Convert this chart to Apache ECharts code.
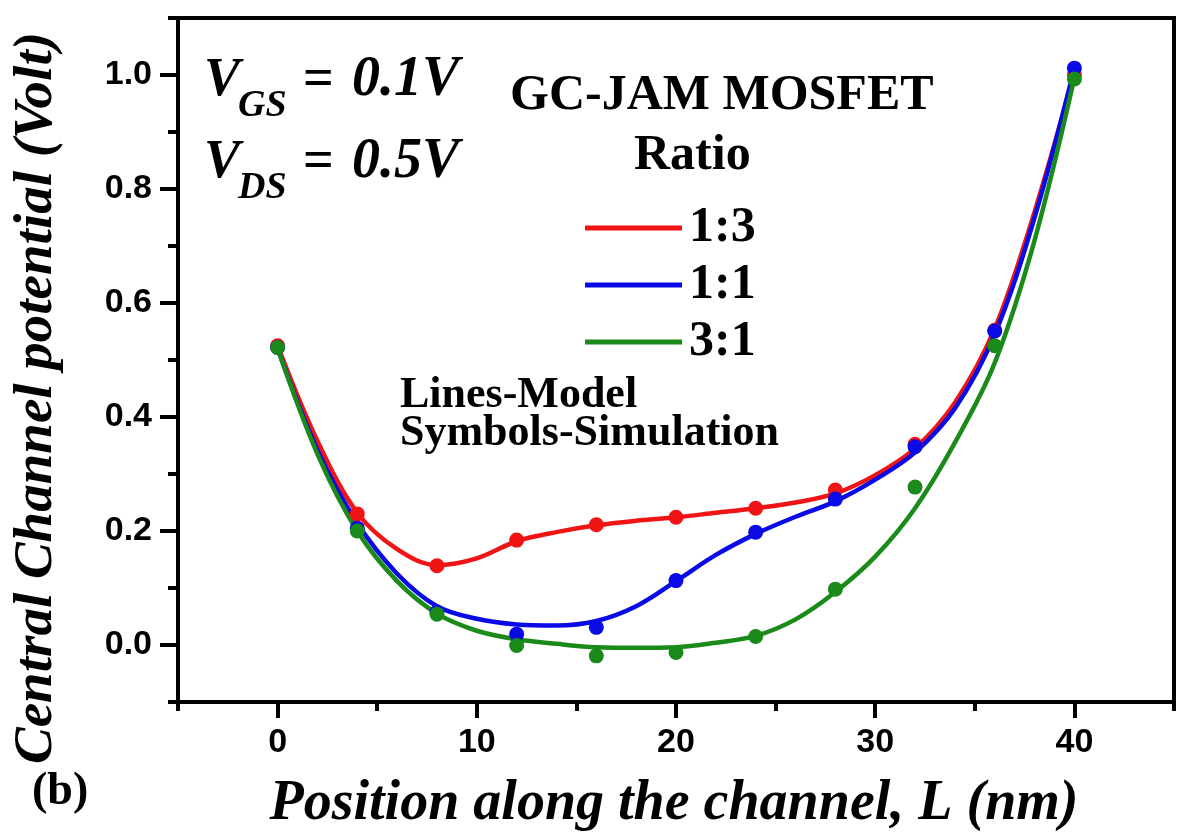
<!DOCTYPE html>
<html>
<head>
<meta charset="utf-8">
<script src="https://cdn.jsdelivr.net/npm/echarts@6/dist/echarts.min.js"></script>
<style>
html,body{margin:0;padding:0;background:#fff;}
#chart{width:1178px;height:833px;}
</style>
</head>
<body>
<div id="chart"></div>
<script>
// Model curves (lines)
const xModel = [0,2,4,6,8,10,12,14,16,18,20,22,24,26,28,30,32,34,36,38,40];
const model13 = [0.525,0.358,0.232,0.168,0.140,0.152,0.182,0.198,0.210,0.218,0.224,0.232,0.240,0.250,0.266,0.298,0.345,0.425,0.555,0.760,1.005];
const model11 = [0.520,0.342,0.214,0.125,0.068,0.046,0.036,0.034,0.042,0.068,0.112,0.158,0.195,0.225,0.252,0.290,0.338,0.415,0.545,0.750,1.012];
const model31 = [0.520,0.335,0.200,0.112,0.055,0.025,0.010,0.002,-0.004,-0.005,-0.004,0.004,0.016,0.045,0.093,0.155,0.240,0.355,0.495,0.710,0.995];
// Simulation (symbols)
const xSim = [0,4,8,12,16,20,24,28,32,36,40];
const sim13 = [0.525,0.230,0.139,0.184,0.211,0.224,0.240,0.272,0.352,0.552,1.000];
const sim11 = [0.522,0.205,0.058,0.019,0.031,0.113,0.198,0.256,0.348,0.551,1.012];
const sim31 = [0.522,0.200,0.054,-0.001,-0.019,-0.013,0.015,0.098,0.277,0.525,0.993];
const seriesNames = ['1:3','1:1','3:1'];
const colors = ['#f01414','#0a0ae6','#1a8a1a'];
const xTickLabels = [0,10,20,30,40];
const yTickLabels = [0.0,0.2,0.4,0.6,0.8,1.0];

const pair = (xs, ys) => xs.map((x,i)=>[x, ys[i]]);
const models = [model13, model11, model31];
const sims = [sim13, sim11, sim31];

const serif = '"Liberation Serif", "Times New Roman", serif';
const sans = '"Liberation Sans", Arial, sans-serif';

const chart = echarts.init(document.getElementById('chart'), null, {renderer:'canvas'});

const lineSeries = seriesNames.map((n,i)=>({
  name: n, type:'line', data: pair(xModel, models[i]), smooth: 0.35,
  symbol:'none', lineStyle:{color:colors[i], width:4.5}, itemStyle:{color:colors[i]},
  xAxisIndex:0, yAxisIndex:0, z:2, silent:true
}));
const simSeries = seriesNames.map((n,i)=>({
  name: 'sim ' + n, type:'scatter', data: pair(xSim, sims[i]),
  symbol:'circle', symbolSize:15, itemStyle:{color:colors[i], opacity:1},
  xAxisIndex:0, yAxisIndex:0, z:3, silent:true
}));

function txt(text, x, y, font){
  return {type:'text', x:x, y:y, silent:true, z:100,
    style:{text:text, font:font, fill:'#000', align:'left', verticalAlign:'middle'}};
}

const option = {
  animation:false,
  backgroundColor:'#fff',
  grid:{left:178, right:4, top:18, bottom:131, show:true, borderColor:'#000', borderWidth:4, backgroundColor:'transparent'},
  xAxis:[
    {type:'value', min:-5, max:45, interval:10, position:'bottom',
     axisLine:{show:true, onZero:false, lineStyle:{color:'#000', width:4}},
     axisTick:{show:true, inside:false, length:9, lineStyle:{color:'#000', width:4}},
     minorTick:{show:true, splitNumber:2, length:16, lineStyle:{color:'#000', width:4}},
     axisLabel:{show:false}, splitLine:{show:false}, minorSplitLine:{show:false}},
    {type:'value', min:-5, max:45, interval:5, position:'bottom', offset:0,
     axisLine:{show:false}, axisTick:{show:false}, splitLine:{show:false},
     axisLabel:{show:true, margin:24, color:'#000', fontFamily:sans, fontWeight:'bold', fontSize:34,
       formatter:(v)=> xTickLabels.indexOf(Math.round(v))>=0 && Math.abs(v-Math.round(v))<1e-6 ? String(Math.round(v)) : ''}}
  ],
  yAxis:[
    {type:'value', min:-0.1, max:1.1, interval:0.2, position:'left',
     axisLine:{show:true, onZero:false, lineStyle:{color:'#000', width:4}},
     axisTick:{show:true, inside:false, length:10, lineStyle:{color:'#000', width:4}},
     minorTick:{show:true, splitNumber:2, length:18, lineStyle:{color:'#000', width:4}},
     axisLabel:{show:false}, splitLine:{show:false}, minorSplitLine:{show:false}},
    {type:'value', min:-0.1, max:1.1, interval:0.1, position:'left', offset:0,
     axisLine:{show:false}, axisTick:{show:false}, splitLine:{show:false},
     axisLabel:{show:true, margin:26, color:'#000', fontFamily:sans, fontWeight:'bold', fontSize:34,
       formatter:(v)=>{ const k=Math.round(v*10); const val=k/10; return (k%2===0 && yTickLabels.some(t=>Math.abs(t-val)<1e-6)) ? val.toFixed(1) : ''; }}}
  ],
  legend:{
    data:seriesNames, orient:'vertical', left:585, top:203, itemGap:7, padding:0,
    icon:'rect', itemWidth:97, itemHeight:5, itemStyle:{borderWidth:0},
    selectedMode:false,
    textStyle:{fontFamily:serif, fontWeight:'bold', fontSize:50, color:'#000', lineHeight:50, padding:[0,0,0,2]}
  },
  series: lineSeries.concat(simSeries),
  graphic:[
    txt('V', 204, 81, 'bold italic 54px ' + serif),
    txt('GS', 238, 106, 'bold italic 38px ' + serif),
    txt('=', 303, 81, 'bold 54px ' + serif),
    txt('0.1V', 352, 81, 'bold italic 56px ' + serif),
    txt('V', 204, 163, 'bold italic 54px ' + serif),
    txt('DS', 238, 188, 'bold italic 38px ' + serif),
    txt('=', 303, 163, 'bold 54px ' + serif),
    txt('0.5V', 352, 163, 'bold italic 56px ' + serif),
    txt('GC-JAM MOSFET', 510, 96, 'bold 50px ' + serif),
    txt('Ratio', 634, 156, 'bold 50px ' + serif),
    txt('Lines-Model', 400, 396, 'bold 44px ' + serif),
    txt('Symbols-Simulation', 400, 434, 'bold 44px ' + serif),
    txt('(b)', 32, 792, 'bold 46px ' + serif),
    {type:'text', x:674, y:805, silent:true, z:100,
     style:{text:'Position along the channel, L (nm)', font:'bold italic 56px ' + serif, fill:'#000', align:'center', verticalAlign:'middle'}},
    {type:'text', x:37, y:398, rotation:Math.PI/2, silent:true, z:100,
     style:{text:'Central Channel potential (Volt)', font:'bold italic 55px ' + serif, fill:'#000', align:'center', verticalAlign:'middle'}}
  ]
};
chart.setOption(option);
</script>
</body>
</html>
